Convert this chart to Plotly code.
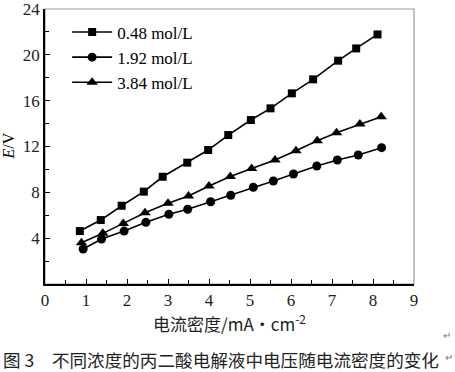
import plotly.graph_objects as go

series_names = ["0.48 mol/L", "1.92 mol/L", "3.84 mol/L"]

x_048 = [0.85, 1.36, 1.87, 2.41, 2.87, 3.47, 3.98, 4.47, 5.02, 5.50, 6.02, 6.54, 7.15, 7.59, 8.11]
y_048 = [4.62, 5.58, 6.83, 8.06, 9.36, 10.59, 11.69, 13.0, 14.31, 15.33, 16.64, 17.86, 19.49, 20.56, 21.78]

x_192 = [0.93, 1.38, 1.93, 2.46, 3.02, 3.48, 4.04, 4.53, 5.08, 5.57, 6.06, 6.63, 7.13, 7.64, 8.21]
y_192 = [3.05, 3.93, 4.62, 5.38, 6.08, 6.52, 7.18, 7.75, 8.44, 8.99, 9.60, 10.30, 10.82, 11.26, 11.90]

x_384 = [0.89, 1.41, 1.91, 2.44, 3.00, 3.50, 4.00, 4.52, 5.04, 5.61, 6.12, 6.64, 7.11, 7.68, 8.20]
y_384 = [3.60, 4.42, 5.29, 6.22, 7.04, 7.68, 8.55, 9.38, 10.09, 10.82, 11.63, 12.50, 13.20, 13.96, 14.60]

x_ticks = [0, 1, 2, 3, 4, 5, 6, 7, 8, 9]
y_ticks = [4, 8, 12, 16, 20, 24]

x_title = "电流密度/mA·cm<sup>-2</sup>"
y_title = "<i>E</i>/V"
caption = "图 3　不同浓度的丙二酸电解液中电压随电流密度的变化"

serif = "Liberation Serif, Times New Roman, serif"
cjk = "Noto Sans CJK SC, sans-serif"

fig = go.Figure()
for xs, ys, sym, name, sz in [
    (x_048, y_048, "square", series_names[0], 8),
    (x_192, y_192, "circle", series_names[1], 9),
    (x_384, y_384, "triangle-up", series_names[2], 10),
]:
    fig.add_trace(go.Scatter(
        x=xs, y=ys, name=name, mode="lines+markers",
        line=dict(color="black", width=1.6),
        marker=dict(symbol=sym, size=sz, color="black"),
    ))

fig.update_layout(
    width=455, height=372,
    margin=dict(l=45, r=41, t=9, b=88, autoexpand=False),
    paper_bgcolor="white", plot_bgcolor="white",
    showlegend=True,
    legend=dict(
        x=0.06, y=0.98, xanchor="left", yanchor="top",
        font=dict(family=serif, size=17, color="black"),
        bgcolor="rgba(0,0,0,0)", tracegroupgap=0, itemwidth=40,
    ),
    font=dict(family=serif, color="black"),
)

fig.update_xaxes(
    range=[0, 9], tickvals=x_ticks, ticktext=[str(v) for v in x_ticks],
    ticks="inside", ticklen=5, tickwidth=1.2, tickcolor="black",
    minor=dict(dtick=0.5, ticks="inside", ticklen=4, tickcolor="black", tickwidth=1),
    showline=True, linecolor="black", linewidth=1.5,
    showgrid=False, zeroline=False, automargin=False, ticklabeloverflow="allow",
    tickfont=dict(family=serif, size=17, color="#222"),
)
fig.update_yaxes(
    range=[0, 24], tickvals=y_ticks, ticktext=[str(v) for v in y_ticks],
    ticks="inside", ticklen=5, tickwidth=1.2, tickcolor="black",
    minor=dict(tickvals=[2, 6, 10, 14, 18, 22], ticks="inside", ticklen=4, tickcolor="black", tickwidth=1),
    showline=True, linecolor="black", linewidth=1.5,
    showgrid=False, zeroline=False, automargin=False, ticklabeloverflow="allow",
    tickfont=dict(family=serif, size=17, color="#222"),
)

fig.add_shape(type="rect", xref="paper", yref="paper", x0=0, y0=0, x1=1, y1=1,
              line=dict(color="#999", width=1.2), layer="below")

fig.add_annotation(text=y_title, xref="paper", yref="paper", x=-0.10, y=0.5,
                   textangle=-90, showarrow=False,
                   font=dict(family=serif, size=16, color="black"),
                   xanchor="center", yanchor="middle")
fig.add_annotation(text=x_title, xref="paper", yref="paper", x=0.5, y=-0.14,
                   showarrow=False, font=dict(family=cjk, size=17, color="#222"),
                   xanchor="center", yanchor="middle")
fig.add_annotation(text=caption, xref="paper", yref="paper", x=-0.118, y=-0.275,
                   showarrow=False, font=dict(family=cjk, size=17.6, color="#222"),
                   xanchor="left", yanchor="middle")
fig.add_annotation(text="↵", xref="paper", yref="paper", x=1.09, y=-0.185,
                   showarrow=False, font=dict(family=cjk, size=10, color="#777"),
                   xanchor="center", yanchor="middle")
fig.add_annotation(text="↵", xref="paper", yref="paper", x=1.095, y=-0.265,
                   showarrow=False, font=dict(family=cjk, size=10, color="#777"),
                   xanchor="center", yanchor="middle")

fig.write_html("out.html", config={"displayModeBar": False},
               post_script="document.body.style.margin='0';document.body.style.padding='0';")
